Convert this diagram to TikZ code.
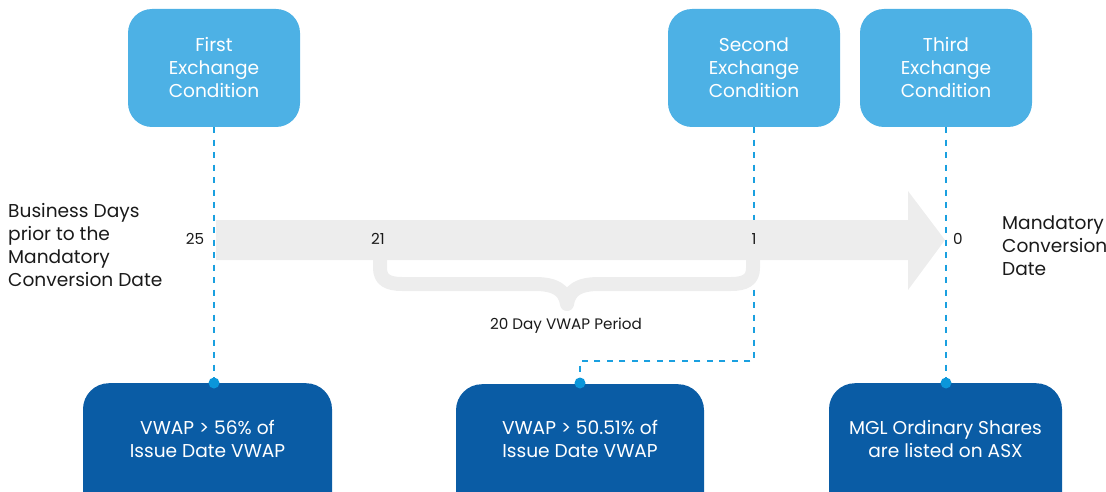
\documentclass[tikz,border=0pt]{standalone}
\usepackage{fontspec}
\setmainfont{Poppins}
\definecolor{topblue}{HTML}{4DB1E5}
\definecolor{botblue}{HTML}{0A5CA5}
\definecolor{dashblue}{HTML}{1AA0E0}
\definecolor{dotblue}{HTML}{0B96DA}
\definecolor{arrowgray}{HTML}{EDEDED}
\definecolor{txt}{HTML}{1A1A1A}
\tikzset{
  topbox/.style={fill=topblue, rounded corners=24pt, minimum width=172pt, minimum height=118pt, text=white, align=center, font=\fontsize{18.6}{23}\selectfont, inner sep=0pt},
  botbox/.style={fill=botblue, rounded corners=26pt, minimum height=140pt, anchor=north, inner sep=0pt},
  bottext/.style={text=white, align=center, font=\fontsize{18.6}{23}\selectfont, inner sep=0pt},
  dashline/.style={draw=dashblue, line width=2pt, dash pattern=on 6pt off 6.5pt},
  dotmark/.style={circle, fill=dotblue, minimum size=11pt, inner sep=0pt},
  numlabel/.style={text=txt, font=\fontsize{15.2}{18}\selectfont, inner sep=0pt},
  sidelabel/.style={text=txt, align=left, font=\fontsize{18.6}{23}\selectfont, inner sep=0pt, anchor=west},
  bracestyle/.style={draw=arrowgray, line width=14pt, line join=round, line cap=butt}
}
\begin{document}
\begin{tikzpicture}[x=1pt,y=-1pt]
\useasboundingbox (0,0) rectangle (1106,492);
\clip (0,0) rectangle (1106,492);

% top boxes
\node[topbox] (t1) at (214,68) {First\\Exchange\\Condition};
\node[topbox] (t2) at (754,68) {Second\\Exchange\\Condition};
\node[topbox] (t3) at (946,68) {Third\\Exchange\\Condition};

% bottom boxes
\node[botbox, minimum width=249pt] (b1) at (207.5,383) {};
\node[botbox, minimum width=248pt] (b2) at (580,384) {};
\node[botbox, minimum width=233pt] (b3) at (945.5,383) {};
\node[bottext] (b1t) at (207.5,439) {VWAP > 56\% of\\Issue Date VWAP};
\node[bottext] (b2t) at (580,439) {VWAP > 50.51\% of\\Issue Date VWAP};
\node[bottext] (b3t) at (945.5,439) {MGL Ordinary Shares\\are listed on ASX};

% dots
\coordinate (d1) at (214,383);
\coordinate (d2) at (580,383);
\coordinate (d3) at (946,383);
\coordinate (k2) at (754,361);

% dashed connectors
\draw[dashline] (t1.south) -- (d1);
\draw[dashline] (t2.south) -- (k2) -| (d2);
\draw[dashline] (t3.south) -- (d3);

% brace
\draw[bracestyle] (380,258) -- (380,268) .. controls (380,280) and (388,284) .. (402,284) -- (535,284) .. controls (555,284) and (565,290) .. (567,304) .. controls (569,290) and (579,284) .. (599,284) -- (731,284) .. controls (745,284) and (753,280) .. (753,268) -- (753,258);

% arrow
\fill[arrowgray] (216,220) -- (908,220) -- (908,191) -- (945,240) -- (908,290) -- (908,260) -- (216,260) -- cycle;

% dots on top
\node[dotmark] (dm1) at (d1) {};
\node[dotmark] (dm2) at (d2) {};
\node[dotmark] (dm3) at (d3) {};

% numbers
\node[numlabel] (n25) at (195,239) {25};
\node[numlabel] (n21) at (378,239) {21};
\node[numlabel] (n1) at (754,239) {1};
\node[numlabel] (n0) at (958,239) {0};

% labels
\node[numlabel] (period) at (566,326) {20 Day VWAP Period};
\node[sidelabel] (left) at (8,245) {Business Days\\prior to the\\Mandatory\\Conversion Date};
\node[sidelabel] (right) at (1002,246) {Mandatory\\Conversion\\Date};
\end{tikzpicture}
\end{document}
